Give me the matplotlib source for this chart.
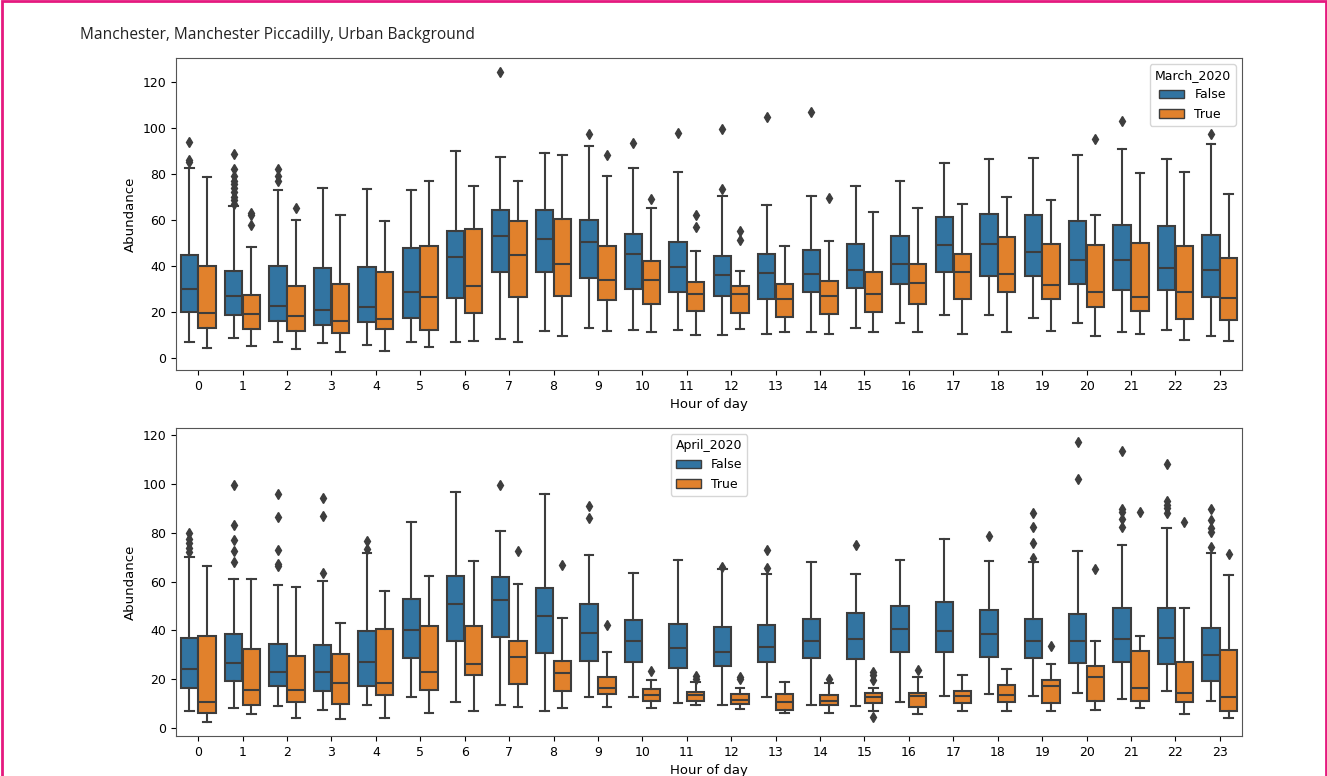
import matplotlib
matplotlib.use("Agg")
import matplotlib.pyplot as plt
from matplotlib.patches import Patch, Rectangle

hours = list(range(24))
hour_labels = [str(h) for h in hours]

# ---- March 2020 panel ----
mar_false_low = [7, 8.7, 7, 6.4, 5.8, 7, 7, 8.4, 11.9, 13, 12.3, 12.3, 10.1, 10.4, 11.6, 13, 15.5, 18.8, 18.8, 17.4, 15.5, 11.6, 12.3, 9.7]
mar_false_q1 = [20, 18.8, 16, 14.5, 15.7, 17.3, 26, 37.4, 37.4, 35, 30.1, 28.6, 26.8, 25.8, 28.6, 30.4, 32.3, 37.4, 35.5, 35.9, 32.2, 29.7, 29.7, 26.5]
mar_false_med = [30, 26.8, 22.5, 21, 22.2, 28.6, 44, 52.9, 51.9, 50.3, 45.2, 39.7, 36.2, 37, 36.5, 38.4, 41, 49, 49.7, 45.9, 42.5, 42.8, 39.1, 38.4]
mar_false_q3 = [45, 37.7, 40, 39, 39.6, 47.8, 55.2, 64.5, 64.5, 60, 54, 50.3, 44.5, 45.2, 47.1, 49.7, 52.9, 61.3, 62.8, 62.3, 59.4, 58, 57.5, 53.3]
mar_false_high = [82.6, 66, 72.8, 74, 73.6, 72.9, 90, 87.2, 89, 92.3, 82.6, 80.9, 70.6, 66.4, 70.6, 74.9, 77.1, 84.8, 86.5, 86.7, 88.4, 90.9, 86.5, 92.8]
mar_false_out = [[85, 86, 94], [67, 68.5, 70, 72, 74, 75.5, 77, 79, 82, 88.7], [77, 79, 82], [], [], [], [], [124.3],
                 [], [97.4], [93.5], [97.8], [73.6, 99.3], [104.8], [107], [], [], [], [], [], [], [102.9], [], [97.5]]

mar_true_low = [4.6, 5.4, 3.9, 2.6, 3.2, 4.9, 7.5, 7.2, 9.7, 11.9, 11.2, 10.1, 12.8, 11.6, 10.4, 11.6, 11.6, 10.4, 11.2, 11.9, 9.7, 10.4, 8, 7.5]
mar_true_q1 = [13.3, 12.6, 11.9, 11, 12.6, 12.2, 19.6, 26.4, 26.8, 25.4, 23.6, 20.7, 19.6, 17.8, 19.1, 20, 23.6, 25.8, 28.7, 25.8, 22.2, 20.3, 17.1, 16.7]
mar_true_med = [19.6, 19.1, 18.3, 16, 17.1, 26.4, 31.2, 44.9, 41, 33.8, 33.8, 27.8, 27.8, 25.7, 26.8, 27.8, 32.5, 37.4, 36.5, 31.9, 28.7, 26.5, 28.7, 26.1]
mar_true_q3 = [40, 27.5, 31.2, 32.2, 37.4, 48.6, 56.2, 59.4, 60.6, 48.6, 42, 33, 31.2, 32.2, 33.6, 37.4, 41, 45.2, 52.5, 49.6, 49, 50, 48.6, 43.5]
mar_true_high = [78.5, 48.3, 60, 62, 59.4, 76.8, 74.6, 77.1, 88, 79, 65, 46.7, 38, 48.8, 51, 63.5, 65, 67.1, 70, 68.6, 62, 80.4, 80.9, 71.3]
mar_true_out = [[], [58, 62, 63], [65], [], [], [], [], [], [], [88.1], [69.3], [56.8, 62.3], [51.4, 55], [], [69.6],
                [], [], [], [], [], [95.2], [], [], []]

# ---- April 2020 panel ----
apr_false_low = [7.1, 8.2, 9.1, 7.4, 9.5, 12.7, 10.9, 9.5, 7.1, 12.6, 12.6, 10.5, 9.5, 12.6, 9.5, 9.1, 10.9, 13, 13.9, 13, 14.6, 12, 15.4, 11.2]
apr_false_q1 = [16.6, 19.4, 17.3, 15.3, 17.3, 28.6, 35.5, 37.5, 30.7, 27.7, 27, 24.6, 25.6, 26.9, 28.6, 28.2, 31.4, 31.4, 29.3, 28.6, 26.6, 27.3, 26.2, 19.4]
apr_false_med = [24.1, 26.6, 22.9, 22.9, 27.3, 40.2, 50.8, 52.5, 46, 38.9, 35.7, 32.7, 31.4, 33.4, 35.7, 36.4, 40.7, 39.8, 38.5, 35.7, 35.7, 36.4, 37.1, 30]
apr_false_q3 = [36.8, 38.5, 34.4, 34.1, 39.8, 52.9, 62.5, 62.1, 57.3, 50.9, 44.3, 42.6, 41.3, 42.3, 44.7, 47.1, 50.1, 51.8, 48.4, 44.7, 46.8, 49.4, 49.4, 41.2]
apr_false_high = [70, 61.1, 58.5, 60.4, 71.6, 84.6, 96.6, 80.8, 95.8, 70.9, 63.4, 68.9, 65.2, 63, 68.2, 63, 68.9, 77.5, 68.5, 68.2, 72.6, 75, 82.1, 71.6]
apr_false_out = [[72, 73.9, 76, 77.5, 80], [68, 72.6, 77, 83, 99.6], [66.2, 67.1, 73, 86.6, 95.8], [63.7, 87, 94.1], [73.3, 76.7],
                 [], [], [99.6], [], [86.2, 91], [], [], [65.8], [65.5, 73], [], [74.8], [], [], [78.7],
                 [69.6, 76, 82.3, 88], [102, 117], [82.3, 85.5, 88.3, 89.8, 113.6], [88, 90, 91.5, 93, 108.2],
                 [74.1, 80.5, 81.9, 85.3, 89.8]]

apr_true_low = [2.5, 6, 4.1, 3.7, 4.1, 6.4, 7.2, 8.5, 8.2, 8.5, 8.2, 9.3, 7.8, 6.1, 6.4, 7.1, 6, 7.2, 7.2, 7.2, 7.5, 8.2, 5.7, 4.1]
apr_true_q1 = [6.1, 9.5, 10.9, 9.8, 13.4, 15.7, 21.8, 18, 15.4, 14.1, 11.2, 11.2, 9.8, 7.5, 9.3, 10.5, 8.6, 10.2, 10.6, 10.2, 11.3, 11.2, 10.6, 7.2]
apr_true_med = [10.9, 15.7, 15.7, 18.7, 18.4, 22.9, 26.2, 29.1, 22.5, 16.6, 13.6, 13.4, 11.5, 10.9, 11.3, 12.6, 13, 13, 13.4, 17.3, 20.9, 16.6, 14.3, 12.7]
apr_true_q3 = [37.9, 32.5, 29.6, 30.4, 40.5, 42, 41.9, 35.5, 27.7, 21.1, 16, 15, 14.1, 14.1, 13.4, 14.3, 14.3, 15.4, 17.7, 19.8, 25.6, 31.8, 27, 32.1]
apr_true_high = [66.2, 61.1, 57.6, 43, 56.3, 62.5, 68.6, 58.9, 45.3, 31.4, 19.8, 18.8, 16.4, 19.1, 18.4, 16.4, 21, 21.6, 24.1, 26.3, 35.7, 37.9, 49.4, 62.8]
apr_true_out = [[], [], [], [], [], [], [], [72.6], [66.8], [42.3], [23.5], [20.2, 21.4], [20.2, 21.1], [], [20.1],
                [4.5, 19.8, 21.6, 22.9], [24], [], [], [33.8], [65.1], [88.3], [84.6], [71.4]]

title_text = "Manchester, Manchester Piccadilly, Urban Background"
blue = "#3274a1"
orange = "#e1812c"
line_gray = "#3d3d3d"


def stats(low, q1, med, q3, high, out):
    return [dict(whislo=a, q1=b, med=c, q3=d, whishi=e, fliers=f)
            for a, b, c, d, e, f in zip(low, q1, med, q3, high, out)]


def draw(ax, groups, legend_title, legend_loc, ylim):
    offsets = [-0.2, 0.2]
    for (st, color), off in zip(groups, offsets):
        ax.bxp(st, positions=[h + off for h in hours], widths=0.39, patch_artist=True,
               showfliers=True,
               boxprops=dict(facecolor=color, edgecolor=line_gray, linewidth=1.5),
               medianprops=dict(color=line_gray, linewidth=1.5),
               whiskerprops=dict(color=line_gray, linewidth=1.5),
               capprops=dict(color=line_gray, linewidth=1.5),
               flierprops=dict(marker='d', markerfacecolor=line_gray, markeredgecolor=line_gray,
                               markersize=5))
    ax.set_xlim(-0.5, 23.5)
    ax.set_ylim(*ylim)
    ax.set_xticks(hours)
    ax.set_xticklabels(hour_labels)
    ax.tick_params(labelsize=9)
    ax.set_xlabel("Hour of day", fontsize=9.5)
    ax.set_ylabel("Abundance", fontsize=9.5)
    for s in ax.spines.values():
        s.set_color("#555555")
    handles = [Patch(facecolor=blue, edgecolor=line_gray, label="False"),
               Patch(facecolor=orange, edgecolor=line_gray, label="True")]
    ax.legend(handles=handles, title=legend_title, loc=legend_loc, fontsize=9, title_fontsize=9)


fig = plt.figure(figsize=(13.27, 7.76), dpi=100)
ax1 = fig.add_axes([0.1326, 0.5232, 0.8034, 0.4021])
ax2 = fig.add_axes([0.1326, 0.0515, 0.8034, 0.397])

draw(ax1, [(stats(mar_false_low, mar_false_q1, mar_false_med, mar_false_q3, mar_false_high, mar_false_out), blue),
           (stats(mar_true_low, mar_true_q1, mar_true_med, mar_true_q3, mar_true_high, mar_true_out), orange)],
     "March_2020", "upper right", (-5.1, 130.3))
draw(ax2, [(stats(apr_false_low, apr_false_q1, apr_false_med, apr_false_q3, apr_false_high, apr_false_out), blue),
           (stats(apr_true_low, apr_true_q1, apr_true_med, apr_true_q3, apr_true_high, apr_true_out), orange)],
     "April_2020", "upper center", (-3.2, 122.9))
ax2.yaxis.set_ticks([0, 20, 40, 60, 80, 100, 120])

fig.text(80 / 1327, 1 - 35 / 776, title_text, fontsize=11.2, family=["Open Sans", "DejaVu Sans"],
         color="#222222", va="center", ha="left")

# magenta frame
fig.patches.append(Rectangle((0.0015, -0.01), 0.9975, 1.0085, transform=fig.transFigure,
                             fill=False, edgecolor="#e5197f", linewidth=2))

fig.savefig("out.png", dpi=100)
